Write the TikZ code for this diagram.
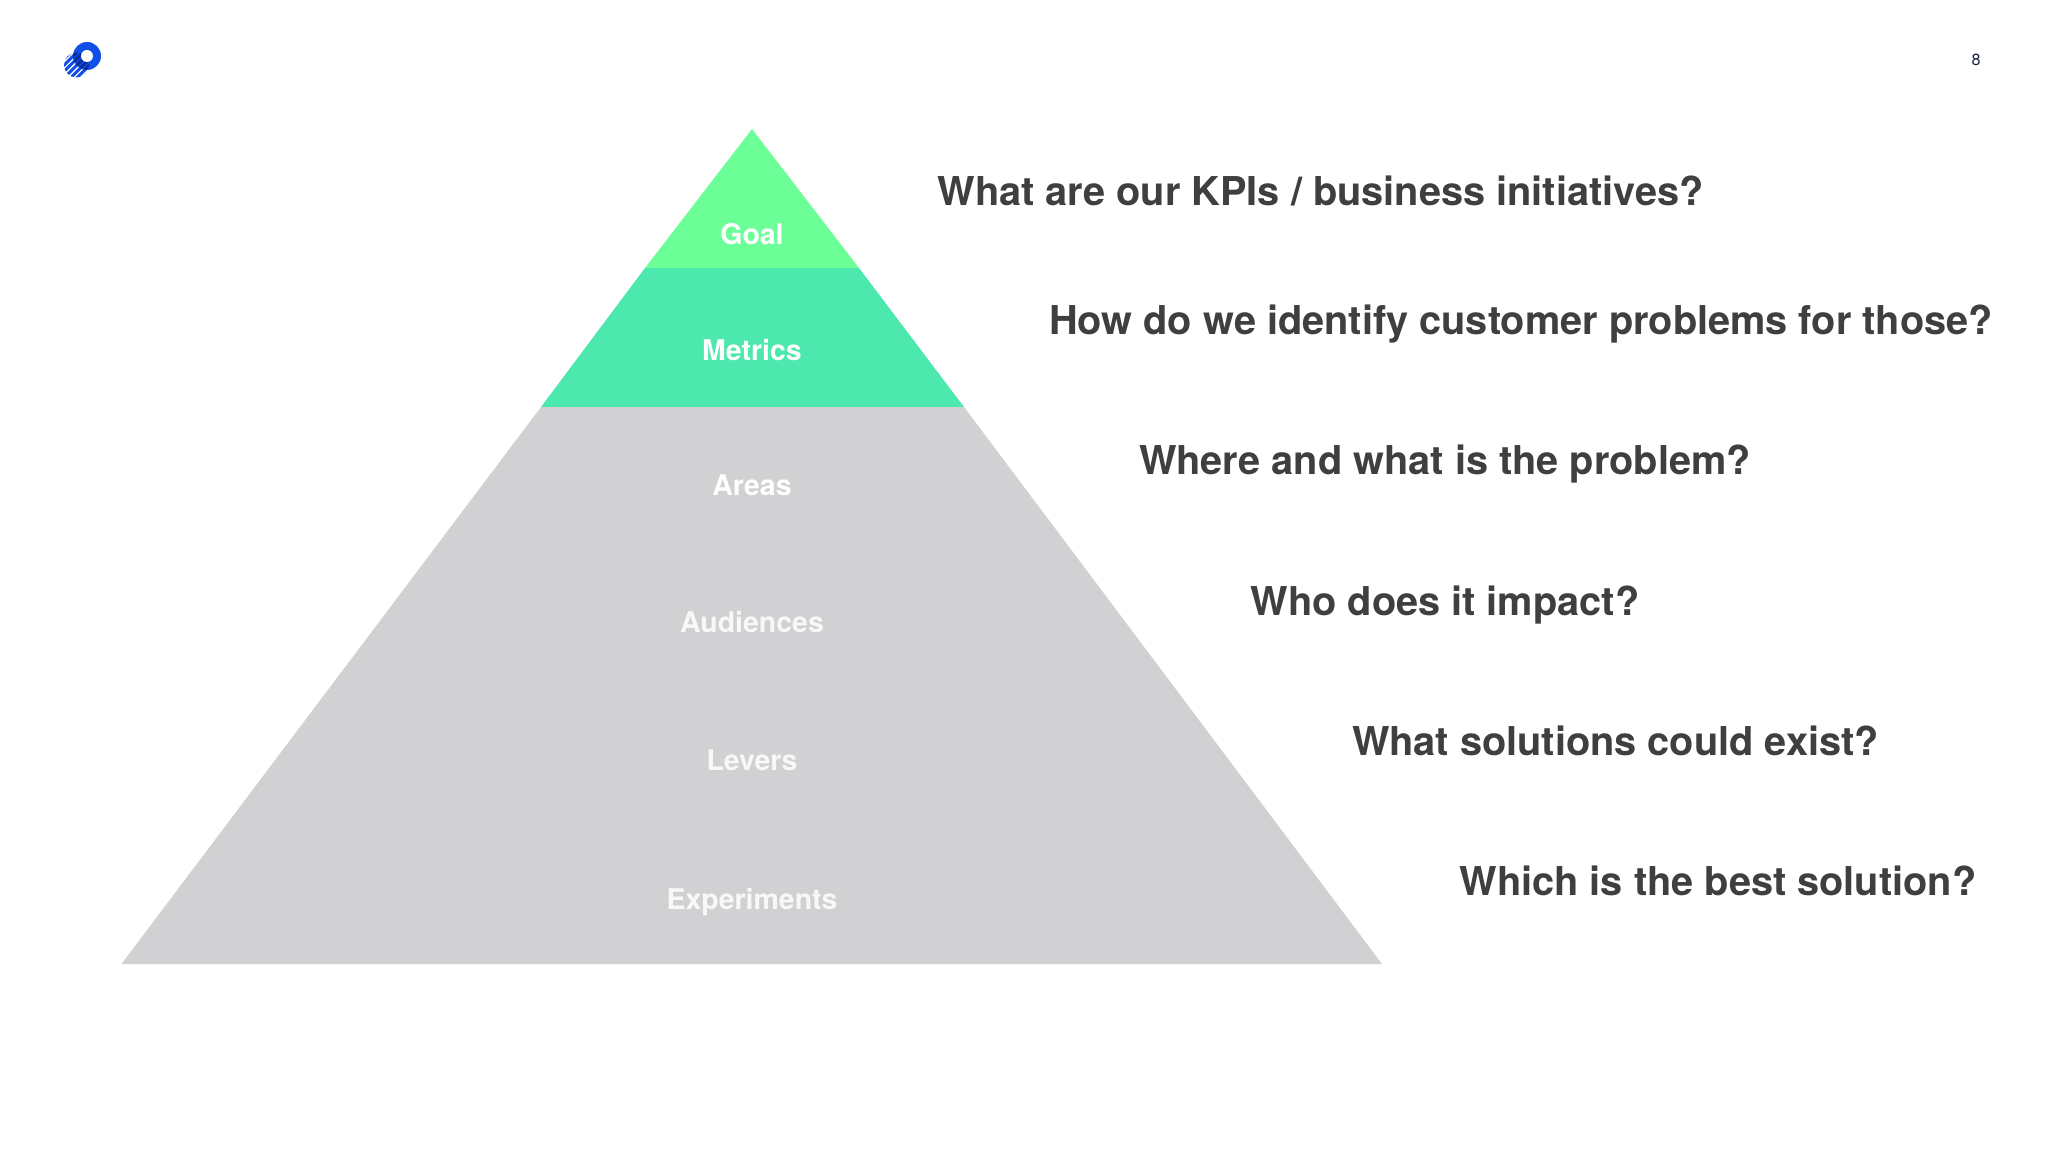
\documentclass[tikz,border=0pt]{standalone}
\usepackage{fontspec}
\setmainfont{TeX Gyre Heros}
\usepackage{tikz}
\definecolor{goalgreen}{HTML}{6CFF98}
\definecolor{metricgreen}{HTML}{4CE8AE}
\definecolor{restgrey}{HTML}{D1D1D3}
\definecolor{asktext}{HTML}{3F3F42}
\definecolor{fadewhite}{HTML}{F8F8F9}
\definecolor{pagetext}{HTML}{1A2440}
\definecolor{logoblue}{HTML}{1050E6}
\definecolor{logodark}{HTML}{0A2A9C}
\begin{document}
\begin{tikzpicture}[x=0.01cm,y=0.01cm]
\tikzstyle{every node}+=[inner sep=0pt]
\tikzstyle{layer}=[text=white,font=\fontsize{8.1}{10}\selectfont\bfseries,anchor=base]
\tikzstyle{ask}=[text=asktext,font=\fontsize{11.3}{14}\selectfont\bfseries,anchor=base]
\useasboundingbox (0,-1152) rectangle (2048,0);
\fill [white] (0,-1152) rectangle (2048,0);
\fill [restgrey] (541,-407) -- (964,-407) -- (1382,-964) -- (121.5,-964) -- cycle;
\fill [metricgreen] (645,-268) -- (859,-268) -- (964,-407) -- (541,-407) -- cycle;
\fill [goalgreen] (752,-129) -- (859,-268) -- (645,-268) -- cycle;
\draw (752,-245) node [layer] (goal) {Goal};
\draw (752,-361) node [layer] (metrics) {Metrics};
\draw (752,-495) node [layer] (areas) {Areas};
\draw (752,-633) node [layer,text=fadewhite] (audiences) {Audiences};
\draw (752,-770) node [layer,text=fadewhite] (levers) {Levers};
\draw (752,-909) node [layer,text=fadewhite] (experiments) {Experiments};
\draw (1320.5,-206) node [ask] (askgoal) {What are our KPIs / business initiatives?};
\draw (1521,-335) node [ask] (askmetrics) {How do we identify customer problems for those?};
\draw (1445,-475) node [ask] (askareas) {Where and what is the problem?};
\draw (1445,-615) node [ask] (askaudiences) {Who does it impact?};
\draw (1615.5,-755) node [ask] (asklevers) {What solutions could exist?};
\draw (1718,-895) node [ask] (askexperiments) {Which is the best solution?};
\draw (1976,-60) node [text=pagetext,font=\fontsize{4.6}{5}\selectfont] (pagenum) {8};
\fill [logoblue] (87,-56) circle (14);
\begin{scope}
\clip (76.5,-65) circle (12.5);
\foreach \s in {-4,...,4}
\draw [logoblue,line width=0.03cm] (60+\s*3.2,-82-\s*3.2) -- (92+\s*3.2,-50-\s*3.2);
\clip (87,-56) circle (14);
\foreach \s in {-4,...,4}
\draw [logodark,line width=0.03cm] (60+\s*3.2,-82-\s*3.2) -- (92+\s*3.2,-50-\s*3.2);
\end{scope}
\fill [white] (87,-56) circle (6);
\end{tikzpicture}
\end{document}
